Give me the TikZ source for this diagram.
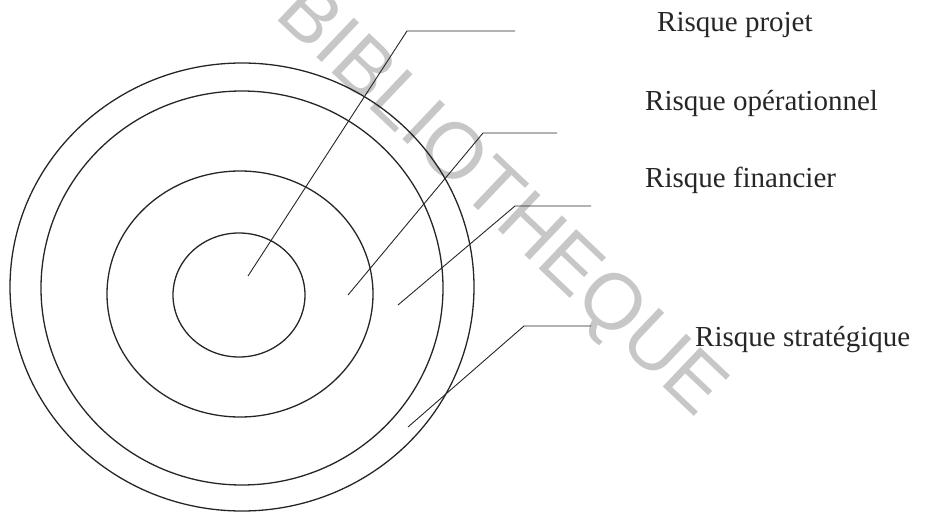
\documentclass[tikz,border=0pt]{standalone}
\usepackage{fontspec}
\setmainfont{Liberation Serif}
\newfontfamily\stampfont{Liberation Sans}

\begin{document}
\begin{tikzpicture}[
        x=1pt, y=1pt,
        ring/.style={
            line width=1.3pt,
            black!85
        },
        leader/.style={
            line width=0.9pt,
            black!85
        },
        risk/.style={
            anchor=base west,
            inner sep=0pt,
            font=\fontsize{29}{34}\selectfont,
            black!85
        },
        stamp/.style={
            rotate=-43.5,
            inner sep=0pt,
            font=\stampfont\fontsize{79}{79}\selectfont,
            black!22
        }
    ]
    \useasboundingbox (0,0) rectangle (929,512);

    % Watermark
    \node[stamp] (stamp) at (499,309) {BIBLIOTHEQUE};

    % Rings
    \draw[ring] (239,217) ellipse [x radius=66pt, y radius=62pt];
    \draw[ring] (240,218) ellipse [x radius=133pt, y radius=123pt];
    \draw[ring] (242,224) ellipse [x radius=201pt, y radius=197pt];
    \draw[ring] (242,225) ellipse [x radius=232pt, y radius=224pt];

    % Leader points
    \coordinate (projetIn) at (248,236);
    \coordinate (projetBend) at (407,481);
    \coordinate (projetEnd) at (515,481);
    \coordinate (operIn) at (348,217);
    \coordinate (operBend) at (483,379);
    \coordinate (operEnd) at (557,379);
    \coordinate (finIn) at (398,207);
    \coordinate (finBend) at (515,306);
    \coordinate (finEnd) at (591,306);
    \coordinate (stratIn) at (408,85);
    \coordinate (stratBend) at (524,186);
    \coordinate (stratEnd) at (591,186);

    % Labels
    \node[risk] (projet) at (657,480) {Risque projet};
    \node[risk] (oper) at (645,401) {Risque opérationnel};
    \node[risk] (fin) at (645,324) {Risque financier};
    \node[risk] (strat) at (695,166) {Risque stratégique};

    % Leaders
    \draw[leader] (projetIn) -- (projetBend) -- (projetEnd);
    \draw[leader] (operIn) -- (operBend) -- (operEnd);
    \draw[leader] (finIn) -- (finBend) -- (finEnd);
    \draw[leader] (stratIn) -- (stratBend) -- (stratEnd);

\end{tikzpicture}
\end{document}
